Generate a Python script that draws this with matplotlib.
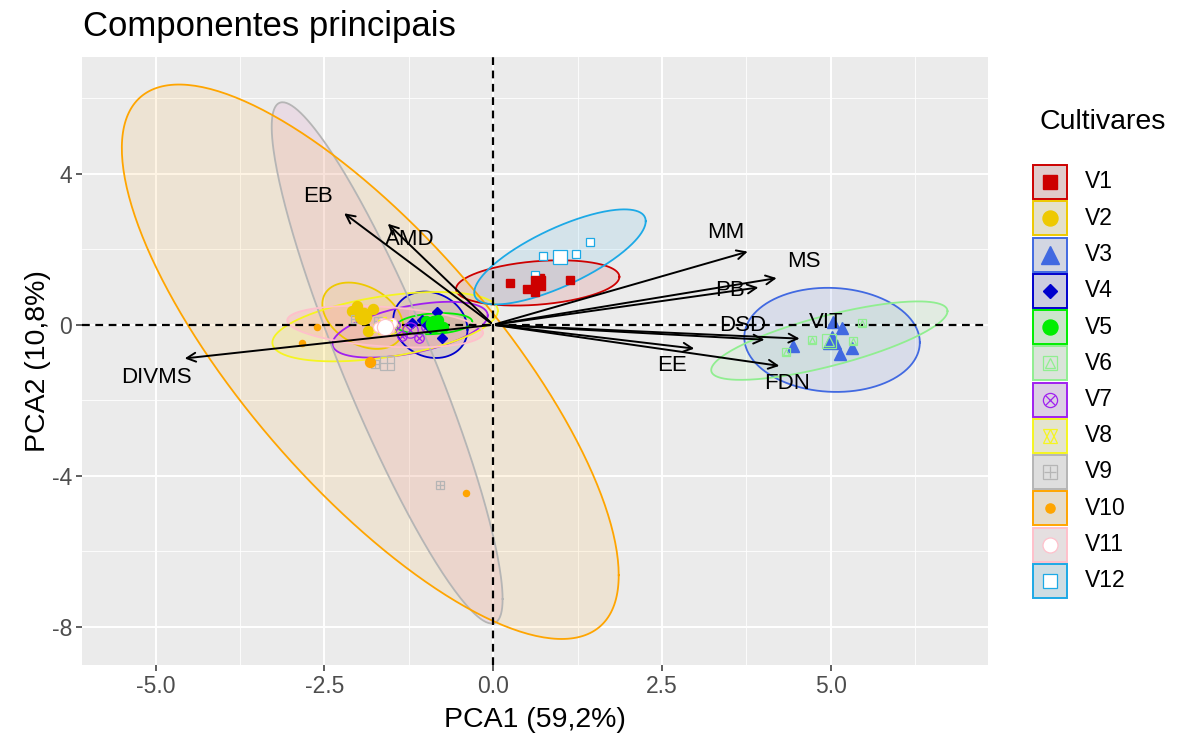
import numpy as np
import matplotlib.pyplot as plt
from matplotlib.patches import Rectangle

plt.rcParams['font.family'] = ['Liberation Sans', 'DejaVu Sans']
plt.rcParams['axes.unicode_minus'] = False

# cultivares, cores e simbolos (pch do R)
cultivares = ['V1', 'V2', 'V3', 'V4', 'V5', 'V6', 'V7', 'V8', 'V9', 'V10', 'V11', 'V12']
cores = ['#CD0000', '#EEC900', '#4169E1', '#0000CD', '#00EE00', '#90EE90',
         '#A020F0', '#F5F520', '#B5B5B5', '#FFA500', '#FFC0CB', '#1CA9E6']
preench = ['#CD0000', '#EEC900', '#4169E1', '#0000CD', '#00EE00', '#90EE90',
           '#A020F0', '#FFFF00', '#E6A6CF', '#FFA500', '#FFA0B0', '#1CA9E6']
formas = [15, 16, 17, 18, 19, 14, 13, 11, 12, 20, 21, 22]

# escores das amostras (formato longo)
pt_cult = [1, 1, 1, 1, 1, 2, 2, 2, 2, 3, 3, 3, 3, 3, 4, 4, 4, 4, 5, 5, 5, 5,
           6, 6, 6, 6, 6, 7, 7, 7, 7, 8, 8, 8, 8, 9, 9, 9, 9, 10, 10, 10, 10,
           11, 11, 11, 11, 12, 12, 12, 12]
pt_pc1 = [0.25, 0.50, 0.62, 1.14, 0.70,
          -2.09, -2.01, -1.78, -1.85,
          4.44, 5.04, 5.17, 5.14, 5.32,
          -0.83, -0.76, -1.05, -1.20,
          -1.00, -0.75, -0.90, -0.82,
          4.34, 4.73, 5.33, 5.47, 5.05,
          -1.35, -1.10, -1.00, -1.45,
          -1.65, -1.50, -1.72, -1.55,
          -0.79, -1.75, -2.05, -1.70,
          -2.61, -2.83, -0.40, -1.90,
          -1.65, -1.55, -1.70, -1.50,
          0.74, 1.23, 1.44, 0.62]
pt_pc2 = [1.11, 0.95, 0.88, 1.19, 1.25,
          0.37, 0.50, 0.42, -0.16,
          -0.56, 0.08, -0.08, -0.77, -0.61,
          0.34, -0.34, 0.13, 0.05,
          0.10, -0.05, 0.05, 0.12,
          -0.72, -0.40, -0.42, 0.05, -0.50,
          -0.30, -0.35, -0.05, 0.00,
          0.10, -0.12, -0.08, 0.05,
          -4.24, -1.05, 0.15, 0.10,
          -0.05, -0.48, -4.46, 0.30,
          0.05, -0.10, -0.05, 0.05,
          1.83, 1.88, 2.20, 1.33]

# centroides
cent_pc1 = [0.66, -1.93, 5.02, -0.93, -0.87, 4.98, -1.23, -1.60, -1.57, -1.82, -1.60, 0.99]
cent_pc2 = [1.11, 0.24, -0.40, 0.00, 0.03, -0.42, -0.13, -0.05, -1.01, -0.98, -0.05, 1.80]

# elipses: semi-amplitude em x, em y e correlacao
ell_hx = [1.21, 0.60, 1.30, 0.55, 0.56, 1.75, 1.15, 1.67, 1.71, 3.68, 1.45, 1.27]
ell_hy = [0.60, 0.88, 1.38, 0.88, 0.28, 1.04, 0.74, 0.92, 6.91, 7.35, 0.55, 1.26]
ell_rho = [0.27, -0.35, -0.05, -0.15, 0.20, 0.75, 0.51, 0.46, -0.906, -0.77, -0.30, 0.75]

# cargas das variaveis
variaveis = ['EB', 'AMD', 'MM', 'MS', 'PB', 'DSD', 'VIT', 'FDN', 'EE', 'DIVMS']
load_pc1 = [-2.24, -1.59, 3.81, 4.24, 3.97, 4.06, 4.58, 4.28, 3.02, -4.61]
load_pc2 = [3.00, 2.73, 1.96, 1.25, 1.00, -0.40, -0.37, -1.10, -0.64, -0.90]
rot_pc1 = [-2.59, -1.23, 3.44, 4.61, 3.51, 3.70, 4.93, 4.36, 2.65, -4.98]
rot_pc2 = [3.40, 2.25, 2.44, 1.67, 0.90, -0.03, 0.05, -1.56, -1.09, -1.41]


def marcador(a, x, y, forma, cor, tam, z):
    kw = dict(ls='none', zorder=z)
    if forma == 15:
        a.plot(x, y, 's', ms=tam * 0.8, color=cor, mec=cor, **kw)
    elif forma == 16:
        a.plot(x, y, 'o', ms=tam * 0.9, color=cor, mec=cor, **kw)
    elif forma == 17:
        a.plot(x, y, '^', ms=tam * 1.05, color=cor, mec=cor, **kw)
    elif forma == 18:
        a.plot(x, y, 'D', ms=tam * 0.6, color=cor, mec=cor, **kw)
    elif forma == 19:
        a.plot(x, y, 'o', ms=tam * 0.9, color=cor, mec=cor, **kw)
    elif forma == 14:
        a.plot(x, y, 's', ms=tam * 0.8, mfc='none', mec=cor, mew=0.9, **kw)
        a.plot(x, y, '^', ms=tam * 0.6, mfc='none', mec=cor, mew=0.9, **kw)
    elif forma == 13:
        a.plot(x, y, 'o', ms=tam * 0.85, mfc='none', mec=cor, mew=0.9, **kw)
        a.plot(x, y, 'x', ms=tam * 0.6, mec=cor, mew=0.9, **kw)
    elif forma == 11:
        a.plot(x, y, '^', ms=tam * 0.8, mfc='none', mec=cor, mew=0.9, **kw)
        a.plot(x, y, 'v', ms=tam * 0.8, mfc='none', mec=cor, mew=0.9, **kw)
    elif forma == 12:
        a.plot(x, y, 's', ms=tam * 0.8, mfc='none', mec=cor, mew=0.9, **kw)
        a.plot(x, y, '+', ms=tam * 0.75, mec=cor, mew=0.9, **kw)
    elif forma == 20:
        a.plot(x, y, 'o', ms=tam * 0.55, color=cor, mec=cor, **kw)
    elif forma == 21:
        a.plot(x, y, 'o', ms=tam * 0.9, mfc='white', mec=cor, mew=0.9, **kw)
    elif forma == 22:
        a.plot(x, y, 's', ms=tam * 0.8, mfc='white', mec=cor, mew=0.9, **kw)


fig = plt.figure(figsize=(11.83, 7.36), dpi=100)
ax = fig.add_axes([82 / 1183, 1 - 665 / 736, (988 - 82) / 1183, (665 - 57) / 736])
ax.set_facecolor('#EBEBEB')
for s in ax.spines.values():
    s.set_visible(False)
ax.set_xlim(-6.09, 7.33)
ax.set_ylim(-9.02, 7.1)
ax.set_xticks([-5, -2.5, 0, 2.5, 5])
ax.set_xticklabels(['-5.0', '-2.5', '0.0', '2.5', '5.0'])
ax.set_yticks([-8, -4, 0, 4])
ax.set_xticks([-3.75, -1.25, 1.25, 3.75, 6.25], minor=True)
ax.set_yticks([-6, -2, 2, 6], minor=True)
ax.grid(which='major', color='white', lw=1.4)
ax.grid(which='minor', color='white', lw=0.6)
ax.set_axisbelow(True)
ax.tick_params(which='major', length=4, width=1.1, color='#333333',
               labelsize=16.5, labelcolor='#4D4D4D', pad=3)
ax.tick_params(which='minor', length=0)
ax.set_xlabel('PCA1 (59,2%)', fontsize=20.5, labelpad=7)
ax.set_ylabel('PCA2 (10,8%)', fontsize=20.5, labelpad=1)
fig.text(83 / 1183, 1 - 36 / 736, 'Componentes principais', fontsize=25, va='baseline')

# elipses
t = np.linspace(0, 2 * np.pi, 300)
for i in range(len(cultivares)):
    ex = cent_pc1[i] + ell_hx[i] * np.cos(t)
    ey = cent_pc2[i] + ell_hy[i] * (ell_rho[i] * np.cos(t) + np.sqrt(1 - ell_rho[i] ** 2) * np.sin(t))
    if i == 8:
        a_f = 0.22
    elif i == 10:
        a_f = 0.28
    elif i == 9:
        a_f = 0.1
    else:
        a_f = 0.11
    ax.fill(ex, ey, color=preench[i], alpha=a_f, lw=0, zorder=1)
    ax.plot(ex, ey, color=cores[i], lw=1.3, zorder=2)

ax.axhline(0, color='black', ls=(0, (3.5, 2.5)), lw=1.6, zorder=3)
ax.axvline(0, color='black', ls=(0, (3.5, 2.5)), lw=1.6, zorder=3)

# pontos e centroides
pt_cult = np.array(pt_cult)
pt_pc1 = np.array(pt_pc1)
pt_pc2 = np.array(pt_pc2)
for i in range(len(cultivares)):
    m = pt_cult == i + 1
    marcador(ax, pt_pc1[m], pt_pc2[m], formas[i], cores[i], 8, 4)
    marcador(ax, [cent_pc1[i]], [cent_pc2[i]], formas[i], cores[i], 13, 5)

# vetores
for i in range(len(variaveis)):
    ax.annotate('', xy=(load_pc1[i], load_pc2[i]), xytext=(0, 0),
                arrowprops=dict(arrowstyle='->', lw=1.4, color='black', mutation_scale=16),
                zorder=6)
    ax.text(rot_pc1[i], rot_pc2[i], variaveis[i], ha='center', va='center',
            fontsize=16, zorder=7)

# legenda
lax = fig.add_axes([0, 0, 1, 1])
lax.set_xlim(0, 1183)
lax.set_ylim(736, 0)
lax.axis('off')
lax.patch.set_visible(False)
lax.text(1040, 122, 'Cultivares', fontsize=20.5, va='center', ha='left')
for i in range(len(cultivares)):
    y0 = 165 + i * 36.25
    lax.add_patch(Rectangle((1033, y0), 34, 34, facecolor='#E3E3E3', edgecolor='none'))
    lax.add_patch(Rectangle((1033, y0), 34, 34, facecolor=cores[i], alpha=0.1, edgecolor='none'))
    lax.add_patch(Rectangle((1033, y0), 34, 34, facecolor='none', edgecolor=cores[i], lw=1.4))
    marcador(lax, [1050], [y0 + 17], formas[i], cores[i], 12, 5)
    lax.text(1085, y0 + 17, cultivares[i], fontsize=16.5, va='center', ha='left')

fig.savefig('out.png', dpi=100)
